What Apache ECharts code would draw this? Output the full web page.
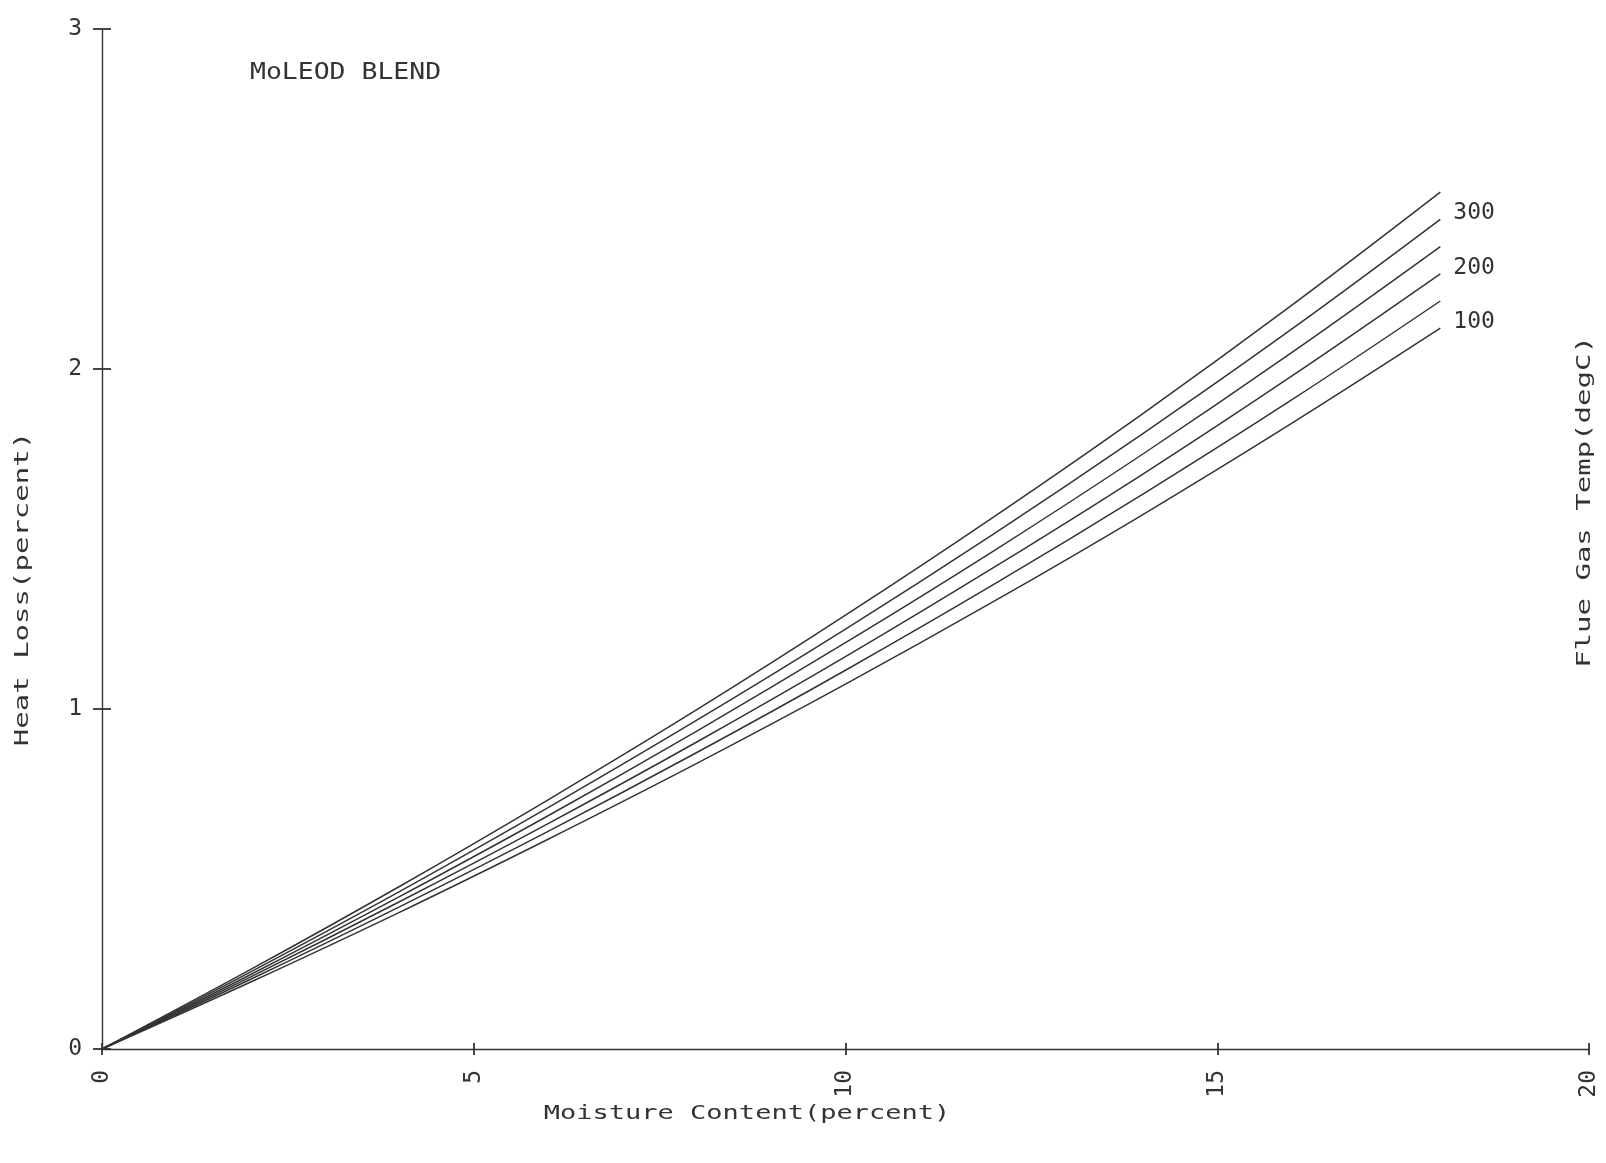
<!DOCTYPE html>
<html>
<head>
<meta charset="utf-8">
<title>MoLEOD BLEND - Heat Loss vs Moisture Content</title>
<script src="https://cdn.jsdelivr.net/npm/echarts@6/dist/echarts.min.js"></script>
<style>
  html, body { margin: 0; padding: 0; background: #ffffff; }
  #chart { width: 1606px; height: 1163px; }
</style>
</head>
<body>
<div id="chart"></div>
<script>
// Moisture content (percent) at which each curve is sampled
const moisture = [0, 2, 4, 6, 8, 10, 12, 14, 16, 18];

// Flue gas temperatures (degC), one curve each
const flueTemps = [300, 250, 200, 150, 100, 50];

// Heat loss (percent) for each flue gas temperature
const loss300 = [0, 0.234, 0.478, 0.733, 0.998, 1.276, 1.566, 1.869, 2.187, 2.520];
const loss250 = [0, 0.227, 0.463, 0.710, 0.967, 1.235, 1.516, 1.810, 2.117, 2.440];
const loss200 = [0, 0.219, 0.448, 0.686, 0.935, 1.195, 1.466, 1.750, 2.048, 2.360];
const loss150 = [0, 0.212, 0.433, 0.663, 0.903, 1.154, 1.417, 1.691, 1.979, 2.280];
const loss100 = [0, 0.205, 0.418, 0.640, 0.872, 1.114, 1.367, 1.632, 1.909, 2.200];
const loss50  = [0, 0.197, 0.402, 0.617, 0.840, 1.073, 1.317, 1.572, 1.840, 2.120];

// Curves that carry a temperature tag at their right end
const taggedTemps = [300, 200, 100];

const xTicks = [0, 5, 10, 15, 20];
const yTicks = [0, 1, 2, 3];

const lossSeries = [loss300, loss250, loss200, loss150, loss100, loss50];

const INK = '#333333';
const MONO = '"DejaVu Sans Mono", "Liberation Mono", monospace';

const chart = echarts.init(document.getElementById('chart'), null, { renderer: 'canvas' });

const grid = { left: 102, top: 29, right: 17, bottom: 114, containLabel: false };

function pairs(values) {
  return moisture.map((m, i) => [m, values[i]]);
}

const series = flueTemps.map((t, k) => {
  const tagged = taggedTemps.indexOf(t) >= 0;
  return {
    name: t + ' degC',
    type: 'line',
    xAxisIndex: 0,
    yAxisIndex: 0,
    data: pairs(lossSeries[k]),
    smooth: 0.4,
    symbol: 'none',
    silent: true,
    lineStyle: { color: INK, width: 1.5 },
    endLabel: {
      show: tagged,
      formatter: String(t),
      color: INK,
      fontFamily: MONO,
      fontSize: 23,
      distance: 13,
      offset: [0, 21]
    }
  };
});

const option = {
  backgroundColor: '#ffffff',
  animation: false,
  grid: grid,
  xAxis: [
    {
      type: 'value',
      min: 0,
      max: 20,
      interval: 5,
      position: 'bottom',
      axisLine: { show: true, onZero: false, lineStyle: { color: INK, width: 1.4 } },
      axisTick: { show: true, inside: false, length: 6, lineStyle: { color: INK, width: 1.8 } },
      axisLabel: {
        show: true,
        rotate: 90,
        margin: 21,
        verticalAlign: 'middle',
        padding: [0, 0, 14, 0],
        color: INK,
        fontFamily: MONO,
        fontSize: 23,
        formatter: v => (xTicks.indexOf(v) >= 0 ? String(v) : '')
      },
      splitLine: { show: false }
    },
    {
      // inner half of the cross-shaped ticks
      type: 'value',
      min: 0,
      max: 20,
      interval: 5,
      position: 'bottom',
      axisLine: { show: false, onZero: false },
      axisTick: { show: true, inside: true, length: 6, lineStyle: { color: INK, width: 1.8 } },
      axisLabel: { show: false },
      splitLine: { show: false }
    }
  ],
  yAxis: [
    {
      type: 'value',
      min: 0,
      max: 3,
      interval: 1,
      position: 'left',
      axisLine: { show: true, onZero: false, lineStyle: { color: INK, width: 1.4 } },
      axisTick: { show: true, inside: false, length: 9, lineStyle: { color: INK, width: 1.8 } },
      axisLabel: {
        show: true,
        margin: 20,
        verticalAlign: 'middle',
        padding: [0, 0, 16, 0],
        color: INK,
        fontFamily: MONO,
        fontSize: 23,
        formatter: v => (yTicks.indexOf(v) >= 0 ? String(v) : '')
      },
      splitLine: { show: false }
    },
    {
      type: 'value',
      min: 0,
      max: 3,
      interval: 1,
      position: 'left',
      axisLine: { show: false, onZero: false },
      axisTick: { show: true, inside: true, length: 9, lineStyle: { color: INK, width: 1.8 } },
      axisLabel: { show: false },
      splitLine: { show: false }
    }
  ],
  graphic: [
    {
      type: 'text',
      x: 747,
      y: 1114,
      scaleX: 1.35,
      style: {
        text: 'Moisture Content(percent)',
        fill: INK,
        font: '20px ' + MONO,
        align: 'center',
        verticalAlign: 'middle'
      }
    },
    {
      type: 'text',
      x: 23,
      y: 589,
      rotation: Math.PI / 2,
      scaleX: 1.45,
      style: {
        text: 'Heat Loss(percent)',
        fill: INK,
        font: '20px ' + MONO,
        align: 'center',
        verticalAlign: 'middle'
      }
    },
    {
      type: 'text',
      x: 1585,
      y: 502,
      rotation: Math.PI / 2,
      scaleX: 1.45,
      style: {
        text: 'Flue Gas Temp(degC)',
        fill: INK,
        font: '20px ' + MONO,
        align: 'center',
        verticalAlign: 'middle'
      }
    },
    {
      type: 'text',
      x: 250,
      y: 73,
      scaleX: 1.15,
      style: {
        text: 'MoLEOD BLEND',
        fill: INK,
        font: '23px ' + MONO,
        align: 'left',
        verticalAlign: 'middle'
      }
    }
  ],
  series: series
};

chart.setOption(option);
</script>
</body>
</html>
